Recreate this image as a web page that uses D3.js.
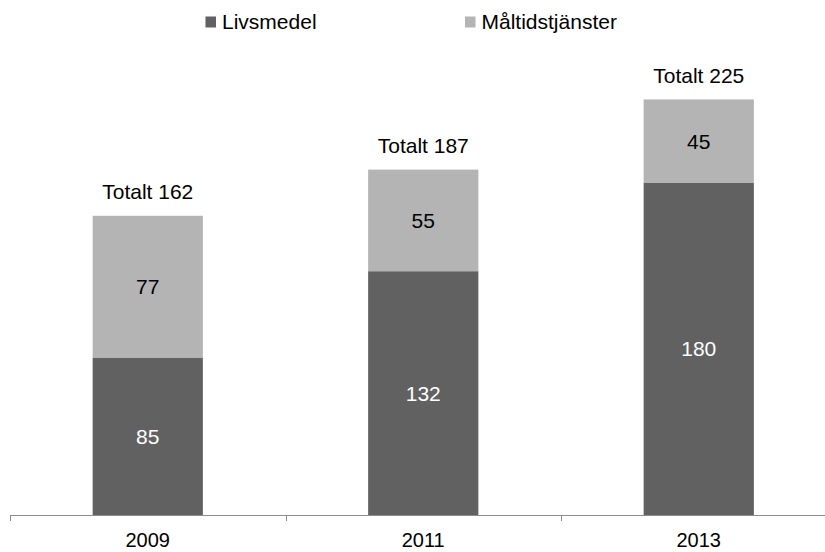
<!DOCTYPE html>
<html>
<head>
<meta charset="utf-8">
<script src="https://cdn.jsdelivr.net/npm/d3@7/dist/d3.min.js"></script>
<style>
  html, body { margin: 0; padding: 0; background: #fff; }
  svg { display: block; font-family: "Liberation Sans", Arial, sans-serif; }
</style>
</head>
<body>
<svg id="chart" width="825" height="552"></svg>
<script>
// Year categories and the two stacked series
const years = ["2009", "2011", "2013"];
const livsmedel = [85, 132, 180];
const maltid = [77, 55, 45];
const totals = [162, 187, 225];
const seriesNames = ["Livsmedel", "Måltidstjänster"];
const seriesColors = ["#616161", "#b4b4b4"];
const labelColors = ["#ffffff", "#000000"];

const svg = d3.select("#chart");
const baseY = 515;

const x = d3.scaleBand()
  .domain(years)
  .range([10, 836.5])
  .paddingInner(0.6)
  .paddingOuter(0.3);

const y = d3.scaleLinear()
  .domain([0, 250])
  .range([baseY, baseY - 250 * 1.847]);

// Stack the series
const rows = years.map((yr, i) => ({ year: yr, Livsmedel: livsmedel[i], "Måltidstjänster": maltid[i] }));
const stacked = d3.stack().keys(seriesNames)(rows);

const g = svg.append("g");

stacked.forEach((layer, li) => {
  const lg = g.append("g");
  lg.selectAll("rect")
    .data(layer)
    .join("rect")
    .attr("x", d => x(d.data.year))
    .attr("width", x.bandwidth())
    .attr("y", d => y(d[1]))
    .attr("height", d => y(d[0]) - y(d[1]))
    .attr("fill", seriesColors[li]);

  lg.selectAll("text")
    .data(layer)
    .join("text")
    .attr("x", d => x(d.data.year) + x.bandwidth() / 2)
    .attr("y", d => (y(d[0]) + y(d[1])) / 2)
    .attr("dy", "0.36em")
    .attr("text-anchor", "middle")
    .attr("font-size", 21)
    .attr("fill", labelColors[li])
    .text(d => d[1] - d[0]);
});

// Total labels above each stack
g.selectAll("text.total")
  .data(years)
  .join("text")
  .attr("class", "total")
  .attr("x", d => x(d) + x.bandwidth() / 2)
  .attr("y", (d, i) => y(totals[i]) - 16.5)
  .attr("text-anchor", "middle")
  .attr("font-size", 21)
  .attr("fill", "#000")
  .text((d, i) => "Totalt " + totals[i]);

// Category axis with ticks on band boundaries
const step = x.step();
const boundaries = years.map(d => x(d) + x.bandwidth() / 2 - step / 2)
  .concat([x(years[years.length - 1]) + x.bandwidth() / 2 + step / 2]);

const axis = svg.append("g").attr("stroke", "#8c8c8c").attr("stroke-width", 1);
axis.append("line")
  .attr("x1", boundaries[0]).attr("x2", boundaries[boundaries.length - 1])
  .attr("y1", baseY + 0.5).attr("y2", baseY + 0.5);
axis.selectAll("line.tick")
  .data(boundaries)
  .join("line")
  .attr("class", "tick")
  .attr("x1", d => Math.round(d) + 0.5).attr("x2", d => Math.round(d) + 0.5)
  .attr("y1", baseY).attr("y2", baseY + 6);

svg.append("g").selectAll("text")
  .data(years)
  .join("text")
  .attr("x", d => x(d) + x.bandwidth() / 2)
  .attr("y", 547)
  .attr("text-anchor", "middle")
  .attr("font-size", 20)
  .attr("fill", "#000")
  .text(d => d);

// Legend
const legendX = [205.5, 465];
const legend = svg.append("g");
seriesNames.forEach((name, i) => {
  legend.append("rect")
    .attr("x", legendX[i]).attr("y", 16.5)
    .attr("width", 10.5).attr("height", 11)
    .attr("fill", seriesColors[i]);
  legend.append("text")
    .attr("x", legendX[i] + 16.5).attr("y", 28.5)
    .attr("font-size", 21)
    .attr("fill", "#000")
    .text(name);
});
</script>
</body>
</html>
